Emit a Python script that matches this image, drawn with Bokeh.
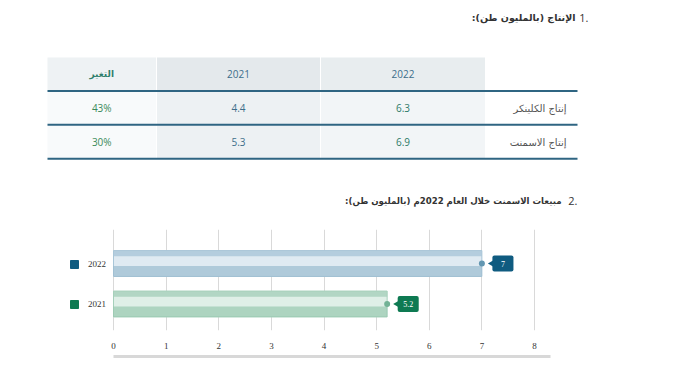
import math
from bokeh.plotting import figure
from bokeh.models import (Range1d, FixedTicker, LinearAxis, Legend, LegendItem,
                          ColumnDataSource)
from bokeh.layouts import column
from bokeh.core.properties import value
from bokeh.transform import dodge
from bokeh.embed import file_html
from bokeh.resources import INLINE

# ---------------- data ----------------
title1_num = "1."
title1_text = "الإنتاج (بالمليون طن):"
title2_num = "2."
title2_text = "مبيعات الاسمنت خلال العام 2022م (بالمليون طن):"

header_years = ["2022", "2021"]
header_change = "التغير"
row_labels = ["إنتاج الكلينكر", "إنتاج الاسمنت"]
prod_2022 = [6.3, 6.9]
prod_2021 = [4.4, 5.3]
prod_change = [43, 30]

sales_years = ["2022", "2021"]
sales_values = [7, 5.2]
x_ticks = [0, 1, 2, 3, 4, 5, 6, 7, 8]

RLE, PDF = "\u202B", "\u202C"
AR_FONT = value("DejaVu Sans")
NUM_FONT = value("Open Sans")
SERIF = "Liberation Serif"

W = 663
H1 = 215
H2 = 151

# ---------------- figure 1 : titles + table ----------------
p1 = figure(width=W, height=H1, x_range=Range1d(0, W), y_range=Range1d(H1, 0),
            output_backend="svg", toolbar_location=None, min_border=0)
p1.axis.visible = False
p1.grid.visible = False
p1.outline_line_color = None
p1.frame_align = False

# column geometry (layout, in screen px)
c0 = (47, 155.5)     # change
c1 = (156.5, 319.5)  # 2021
c2 = (320.5, 484.5)  # 2022
lab_right = 566
tbl_left, tbl_right = 47, 577
hdr = (57, 90)
rows = [(91, 124), (125, 158)]
line_y = [90.5, 124.3, 158.2]

p1.quad(left=[c0[0], c1[0], c2[0]], right=[c0[1], c1[1], c2[1]],
        top=[hdr[0]] * 3, bottom=[hdr[1]] * 3,
        fill_color=["#eef2f4", "#e4e9ec", "#e8edef"], line_color=None)
for (t, b) in rows:
    p1.quad(left=[c0[0], c1[0], c2[0]], right=[c0[1], c1[1], c2[1]],
            top=[t] * 3, bottom=[b] * 3,
            fill_color=["#f8fafb", "#edf1f3", "#f2f5f7"], line_color=None)
p1.segment(x0=[tbl_left] * 3, x1=[tbl_right] * 3, y0=line_y, y1=line_y,
           line_color="#2f6582", line_width=2)

hy = (hdr[0] + hdr[1]) / 2
p1.text(x=[(c2[0] + c2[1]) / 2, (c1[0] + c1[1]) / 2], y=[hy, hy], text=header_years,
        text_align="center", text_baseline="middle", text_font=NUM_FONT,
        text_font_size="10px", text_color="#3d6e8a")
p1.text(x=[(c0[0] + c0[1]) / 2], y=[hy], text=[RLE + header_change + PDF],
        text_align="center", text_baseline="middle", text_font=AR_FONT,
        text_font_style="bold", text_font_size="9px", text_color="#2f7f6c")

ry = [(t + b) / 2 for (t, b) in rows]
p1.text(x=[(c2[0] + c2[1]) / 2] * 2, y=ry, text=[f"{v:.1f}" for v in prod_2022],
        text_align="center", text_baseline="middle", text_font=NUM_FONT,
        text_font_size="10px", text_color="#2d7a68")
p1.text(x=[(c1[0] + c1[1]) / 2] * 2, y=ry, text=[f"{v:.1f}" for v in prod_2021],
        text_align="center", text_baseline="middle", text_font=NUM_FONT,
        text_font_size="10px", text_color="#3d6e8a")
p1.text(x=[(c0[0] + c0[1]) / 2] * 2, y=ry, text=[f"{v}%" for v in prod_change],
        text_align="center", text_baseline="middle", text_font=NUM_FONT,
        text_font_size="10px", text_color="#3a8a5a")
p1.text(x=[lab_right] * 2, y=ry, text=[RLE + s + PDF for s in row_labels],
        text_align="right", text_baseline="middle", text_font=AR_FONT,
        text_font_size="10px", text_color="#555555")

# titles
p1.text(x=[588], y=[17], text=[title1_num], text_align="right", text_baseline="middle",
        text_font=NUM_FONT, text_font_size="11px", text_color="#333333")
p1.text(x=[575], y=[17], text=[RLE + title1_text + PDF], text_align="right",
        text_baseline="middle", text_font=AR_FONT, text_font_style="bold",
        text_font_size="9.5px", text_color="#333333")
p1.text(x=[577], y=[200.5], text=[title2_num], text_align="right", text_baseline="middle",
        text_font=NUM_FONT, text_font_size="11px", text_color="#333333")
p1.text(x=[561], y=[200.5], text=[RLE + title2_text + PDF], text_align="right",
        text_baseline="middle", text_font=AR_FONT, text_font_style="bold",
        text_font_size="8.6px", text_color="#333333")

# ---------------- figure 2 : sales bars ----------------
n = len(sales_years)
ypos = [n - 0.5 - i for i in range(n)]
light = ["#dfeaf2", "#dfefe7"]
band = ["#a9c6d8", "#a6d0bb"]
deep = ["#8fb4ca", "#8cc2a7"]
dot = ["#6397b2", "#72b295"]
dark = ["#0f5b80", "#0e7a52"]

src = ColumnDataSource(dict(y=ypos, v=sales_values, year=sales_years,
                            label=[f"{v:g}" for v in sales_values],
                            light=light, band=band, deep=deep, dot=dot, dark=dark))

PX = 52.625          # pixels per unit on the value axis
ZERO = 113           # screen x of value 0
p2 = figure(width=W, height=H2,
            x_range=Range1d(-ZERO / PX, (W - ZERO) / PX),
            y_range=Range1d(-0.154, 2.34),
            output_backend="svg", toolbar_location=None,
            min_border_left=0, min_border_right=0, min_border_top=14,
            min_border_bottom=36)
p2.outline_line_color = None
p2.frame_align = False
p2.yaxis.visible = False
p2.ygrid.visible = False

p2.xaxis.ticker = FixedTicker(ticks=x_ticks)
p2.xaxis.axis_line_color = None
p2.xaxis.major_tick_line_color = None
p2.xaxis.minor_tick_line_color = None
p2.xaxis.major_label_standoff = 6
p2.xaxis.major_label_text_font = SERIF
p2.xaxis.major_label_text_font_size = "9px"
p2.xaxis.major_label_text_color = "#333333"
p2.xaxis.axis_label = " "
p2.xaxis.axis_label_standoff = 0
p2.xaxis.axis_label_text_font_size = "2px"
p2.xgrid.grid_line_color = "#d9d9d9"

ax2 = LinearAxis(ticker=FixedTicker(ticks=[]), bounds=(0, 8.31),
                 axis_line_color="#d8d8d8", axis_line_width=3,
                 major_tick_line_color=None, minor_tick_line_color=None,
                 major_label_text_font_size="0px")
p2.add_layout(ax2, "below")

H = 0.64
p2.hbar(y="y", left=0, right="v", height=H, fill_color="light", line_color="band",
        line_width=1, source=src)
p2.hbar(y=dodge("y", H / 2 - 0.07), left=0, right="v", height=0.14,
        fill_color="band", fill_alpha=0.8, line_color=None, source=src)
p2.hbar(y=dodge("y", -H / 2 + 0.13), left=0, right="v", height=0.26,
        fill_color="deep", fill_alpha=0.6, line_color=None, source=src)
p2.scatter(x="v", y="y", size=6, fill_color="dot", line_color=None, source=src)

# callouts
p2.quad(left=dodge("v", 0.2), right=dodge("v", 0.6), top=dodge("y", 0.2),
        bottom=dodge("y", -0.2), fill_color="dark", line_color=None,
        border_radius=2, source=src)
p2.scatter(x=dodge("v", 0.18), y="y", marker="triangle", angle=math.pi / 2, size=6,
           fill_color="dark", line_color=None, source=src)
p2.text(x=dodge("v", 0.4), y="y", text="label", text_align="center",
        text_baseline="middle", text_color="white", text_font=value(SERIF),
        text_font_size="8px", source=src)

# legend (swatches come from a hidden square renderer of the same data)
r_sq = p2.scatter(x="v", y="y", marker="square", size=8, fill_color="dark",
                  line_color="dark", source=src, visible=False)
items = [LegendItem(label=yr, renderers=[r_sq], index=i)
         for i, yr in enumerate(sales_years)]
legend = Legend(items=items, location=(64, 16), glyph_width=20, glyph_height=20,
                spacing=20, padding=0, margin=0, label_standoff=4,
                background_fill_alpha=0, border_line_alpha=0,
                inactive_fill_alpha=0,
                label_text_font=SERIF, label_text_font_size="9px",
                label_text_color="#333333")
p2.add_layout(legend)

layout = column(p1, p2, spacing=0)
open("out.html", "w").write(file_html(layout, INLINE))
